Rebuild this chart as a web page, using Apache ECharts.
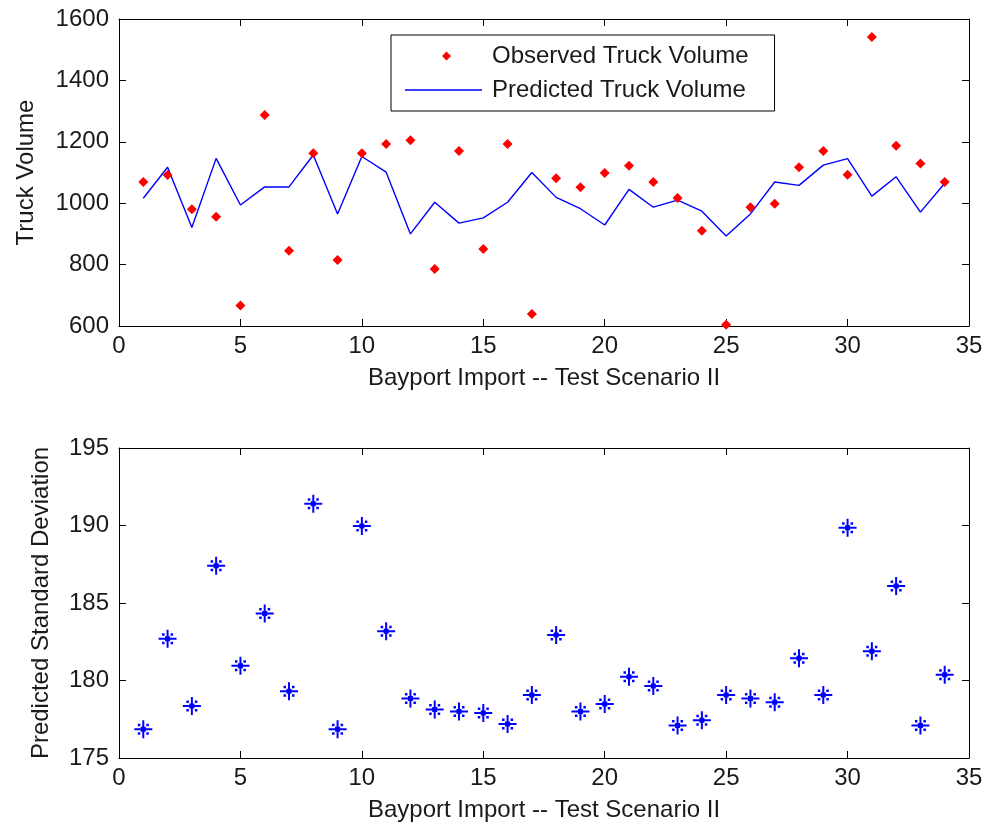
<!DOCTYPE html>
<html>
<head>
<meta charset="utf-8">
<script src="https://cdn.jsdelivr.net/npm/echarts@6/dist/echarts.min.js"></script>
<style>
  html, body { margin: 0; padding: 0; background: #fff; }
  #chart { width: 989px; height: 834px; }
</style>
</head>
<body>
<div id="chart"></div>
<script>
// observation index 1..34
var obsIndex = [1, 2, 3, 4, 5, 6, 7, 8, 9, 10, 11, 12, 13, 14, 15, 16, 17,
  18, 19, 20, 21, 22, 23, 24, 25, 26, 27, 28, 29, 30, 31, 32, 33, 34];

var observedVolume = [1069, 1092, 980, 956, 667, 1287, 845, 1163, 815, 1163, 1193, 1205, 786, 1170, 851, 1193, 639,
  1081, 1052, 1098, 1122, 1069, 1017, 910, 604, 987, 998, 1117, 1170, 1093, 1541, 1187, 1129, 1069];

var predictedVolume = [1016, 1117, 921, 1146, 994, 1053, 1053, 1157, 965, 1152, 1101, 900, 1003, 935, 952, 1003, 1100,
  1019, 982, 929, 1045, 987, 1010, 974, 893, 965, 1069, 1058, 1124, 1145, 1023, 1086, 971, 1065];

var predictedStd = [176.85, 182.7, 178.36, 187.4, 180.95, 184.33, 179.3, 191.4, 176.85, 189.96, 183.17, 178.84, 178.13, 178.0, 177.9, 177.2, 179.07,
  182.93, 178.0, 178.49, 180.24, 179.65, 177.1, 177.44, 179.07, 178.84, 178.6, 181.43, 179.07, 189.85, 181.88, 186.1, 177.1, 180.37];

var xTitle = 'Bayport Import -- Test Scenario II';

function pairs(ys) {
  return obsIndex.map(function (x, i) { return [x, ys[i]]; });
}

var font = 'Liberation Sans, Arial, sans-serif';
var txt = { color: '#1a1a1a', fontSize: 24, fontFamily: font };

// asterisk marker like matlab '*'
var asterisk = 'path://M0 8H18V10H0Z M8 0H10V18H8Z M6.5 6.5H11.5V11.5H6.5Z ' +
  'M3.5 3.5H6V6H3.5Z M12 3.5H14.5V6H12Z M3.5 12H6V14.5H3.5Z M12 12H14.5V14.5H12Z';

// legend icons: tiny corner specks keep the 77x10 box so the shape is not stretched
var corners = 'M0 0L0.01 0L0 0.01Z M77 10L76.99 10L77 9.99Z ';
var legendDiamond = 'path://' + corners + 'M41.5 0.5L46 5L41.5 9.5L37 5Z';
var legendLine = 'path://' + corners + 'M0 4.3H77V5.7H0Z';

function xAx(grid, top) {
  return {
    type: 'value', gridIndex: grid, min: 0, max: 35, interval: 5,
    position: top ? 'top' : 'bottom',
    name: top ? '' : xTitle, nameLocation: 'middle', nameGap: 40,
    nameTextStyle: txt,
    axisLine: { show: true, onZero: false, lineStyle: { color: '#000', width: 1 } },
    axisTick: { show: true, inside: true, length: 7, lineStyle: { color: '#000' } },
    axisLabel: top ? { show: false } : Object.assign({ margin: 8 }, txt),
    splitLine: { show: false }
  };
}

function yAx(grid, right, min, max, step, name, gap) {
  return {
    type: 'value', gridIndex: grid, min: min, max: max, interval: step,
    position: right ? 'right' : 'left',
    name: right ? '' : name, nameLocation: 'middle', nameGap: gap,
    nameTextStyle: txt,
    axisLine: { show: true, onZero: false, lineStyle: { color: '#000', width: 1 } },
    axisTick: { show: true, inside: true, length: 7, lineStyle: { color: '#000' } },
    axisLabel: right ? { show: false } : Object.assign({ margin: 10, formatter: function (v) { return String(v); } }, txt),
    splitLine: { show: false }
  };
}

var chart = echarts.init(document.getElementById('chart'));
chart.setOption({
  animation: false,
  backgroundColor: '#fff',
  grid: [
    { left: 119, top: 19, width: 850, height: 307 },
    { left: 119, top: 448, width: 850, height: 310 }
  ],
  legend: {
    orient: 'vertical',
    left: 391, top: 35,
    padding: [9, 26, 9, 14],
    itemGap: 10,
    itemWidth: 77, itemHeight: 10,
    borderColor: '#000', borderWidth: 1,
    backgroundColor: '#fff',
    textStyle: { color: '#1a1a1a', fontSize: 24, fontFamily: font, padding: [0, 0, 0, 5] },
    data: [
      { name: 'Observed Truck Volume', icon: legendDiamond, itemStyle: { color: '#ff0000', opacity: 1 } },
      { name: 'Predicted Truck Volume', icon: legendLine, itemStyle: { color: '#0000ff', opacity: 1 } }
    ]
  },
  xAxis: [xAx(0, false), xAx(0, true), xAx(1, false), xAx(1, true)],
  yAxis: [
    yAx(0, false, 600, 1600, 200, 'Truck Volume', 81),
    yAx(0, true, 600, 1600, 200),
    yAx(1, false, 175, 195, 5, 'Predicted Standard Deviation', 66),
    yAx(1, true, 175, 195, 5)
  ],
  series: [
    {
      name: 'Predicted Truck Volume', type: 'line',
      xAxisIndex: 0, yAxisIndex: 0,
      data: pairs(predictedVolume),
      symbol: 'none',
      lineStyle: { color: '#0000ff', width: 1.4 },
      itemStyle: { color: '#0000ff' },
      z: 2
    },
    {
      name: 'Observed Truck Volume', type: 'scatter',
      xAxisIndex: 0, yAxisIndex: 0,
      data: pairs(observedVolume),
      symbol: 'diamond', symbolSize: 10,
      itemStyle: { color: '#ff0000', opacity: 1 },
      z: 3
    },
    {
      name: 'Predicted Standard Deviation', type: 'scatter',
      xAxisIndex: 2, yAxisIndex: 2,
      data: pairs(predictedStd),
      symbol: asterisk, symbolSize: 18,
      itemStyle: { color: '#0000ff', opacity: 1 }
    }
  ]
});
</script>
</body>
</html>
